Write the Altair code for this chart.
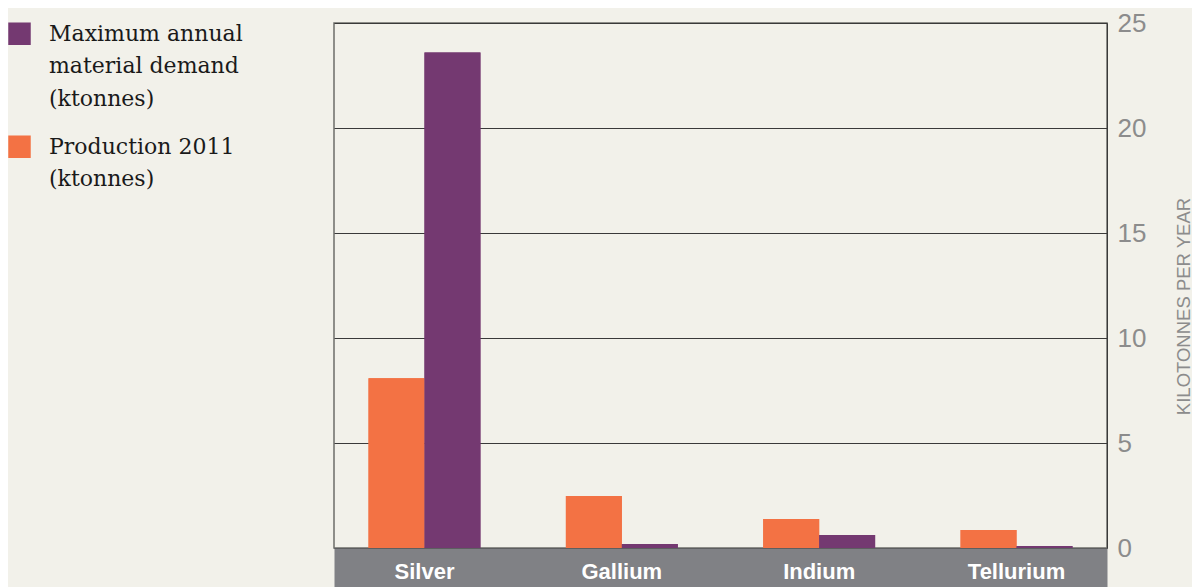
import altair as alt
import pandas as pd

categories = ["Silver", "Gallium", "Indium", "Tellurium"]
production_2011 = [8.08, 2.48, 1.38, 0.86]
max_demand = [23.6, 0.19, 0.62, 0.10]
series_names = ["Maximum annual|material demand|(ktonnes)", "Production 2011|(ktonnes)"]
series_colors = ["#743971", "#f37244"]
y_ticks = [0, 5, 10, 15, 20, 25]

rows = []
for c, p, m in zip(categories, production_2011, max_demand):
    rows.append({"metal": c, "series": series_names[1], "value": p})
    rows.append({"metal": c, "series": series_names[0], "value": m})
df = pd.DataFrame(rows)

SANS = "Liberation Sans"

x_scale = alt.Scale(paddingInner=0.433, paddingOuter=0.175)

y_enc = alt.Y("value:Q", scale=alt.Scale(domain=[0, 25], nice=False),
              title="KILOTONNES PER YEAR",
              axis=alt.Axis(orient="right", values=y_ticks, grid=True, gridColor="#3a3a3a",
                            gridWidth=1, domain=True, domainColor="#3a3a3a", ticks=False,
                            labelColor="#8c8c8c", labelFont=SANS, labelFontSize=26,
                            labelPadding=10, labelAlign="left", labelBaseline="middle",
                            titleColor="#8c8c8c", titleFont=SANS, titleFontSize=18.5,
                            titleFontWeight="normal", titleAngle=270, titleAlign="center",
                            titleBaseline="middle", titleX=76, titleY=283))

color_enc = alt.Color("series:N", scale=alt.Scale(domain=series_names, range=series_colors),
                      legend=alt.Legend(orient="none", legendX=-326, legendY=-11, title=None,
                                        symbolType="M-1,-0.09L1,-0.09L1,1.91L-1,1.91Z",
                                        symbolSize=506, symbolStrokeWidth=0,
                                        labelExpr="split(datum.label, '|')",
                                        labelFont="DejaVu Serif", labelFontSize=22,
                                        labelColor="#1a1a1a", labelLimit=400,
                                        labelBaseline="top", labelOffset=18,
                                        rowPadding=15, padding=0))

xoff_enc = alt.XOffset("series:N", sort=[series_names[1], series_names[0]],
                       scale=alt.Scale(paddingInner=0, paddingOuter=0))

# layer that draws the grey band along the bottom (axis domain)
band_layer = alt.Chart(df).mark_bar().encode(
    x=alt.X("metal:N", sort=categories, title=None, scale=x_scale,
            axis=alt.Axis(orient="bottom", domainColor="#808185", domainWidth=39,
                          offset=19.5, ticks=False, labels=False, zindex=0)),
    xOffset=xoff_enc, y=y_enc, color=color_enc,
)

# layer that carries the white category labels on top of the band
label_layer = alt.Chart(df).mark_bar().encode(
    x=alt.X("metal:N", sort=categories, title=None, scale=x_scale,
            axis=alt.Axis(orient="bottom", domain=False, ticks=False, offset=0,
                          labelColor="#ffffff", labelFont=SANS, labelFontWeight="bold",
                          labelFontSize=22, labelPadding=30, labelBaseline="alphabetic",
                          labelAngle=0, zindex=1)),
    xOffset=xoff_enc, y=y_enc, color=color_enc,
)

chart = alt.layer(band_layer, label_layer).resolve_axis(x="independent").properties(
    width=773, height=525,
    background="#f2f1ea",
    padding={"left": 326, "top": 15, "right": 85, "bottom": 39},
    autosize=alt.AutoSizeParams(type="none"),
).configure(
    style={"guide-label": {"lineHeight": 32.5}}
).configure_view(
    stroke="#6e6e6a", strokeWidth=1.5, fill="#f2f1ea"
)

chart.save("out.html", embed_options={"renderer": "svg", "actions": False})
